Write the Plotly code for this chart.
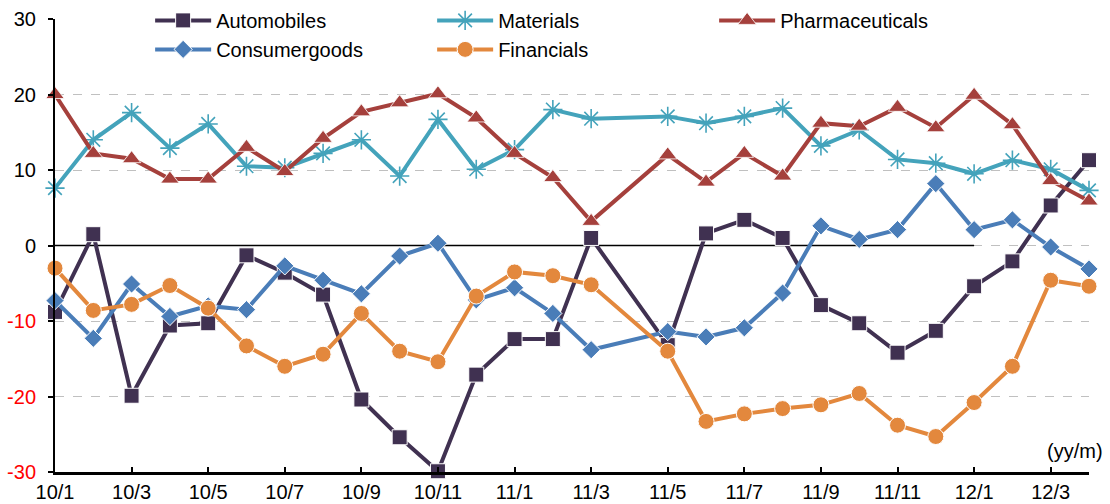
import plotly.graph_objects as go

# Monthly periods (yy/m); 11/4 has no observation
months = ["10/1", "10/2", "10/3", "10/4", "10/5", "10/6", "10/7", "10/8", "10/9", "10/10", "10/11", "10/12",
          "11/1", "11/2", "11/3", "11/4", "11/5", "11/6", "11/7", "11/8", "11/9", "11/10", "11/11", "11/12",
          "12/1", "12/2", "12/3", "12/4"]

automobiles = [-8.8, 1.5, -19.9, -10.6, -10.3, -1.3, -3.6, -6.5, -20.4, -25.4, -29.9, -17.1,
               -12.4, -12.4, 1.0, None, -13.2, 1.6, 3.4, 1.0, -7.9, -10.3, -14.2, -11.3,
               -5.4, -2.1, 5.3, 11.3]
materials = [7.6, 14.0, 17.6, 12.9, 16.1, 10.5, 10.3, 12.2, 14.0, 9.2, 16.7, 10.1,
             12.7, 18.0, 16.8, None, 17.1, 16.2, 17.1, 18.2, 13.2, 15.3, 11.4, 10.9,
             9.5, 11.3, 10.1, 7.3]
pharmaceuticals = [20.0, 12.2, 11.5, 8.8, 8.8, 13.0, 9.8, 14.2, 17.7, 18.9, 20.1, 16.9,
                   12.2, 9.0, 3.2, None, 12.0, 8.4, 12.2, 9.2, 16.2, 15.8, 18.3, 15.6,
                   19.9, 16.0, 8.6, 5.9]
consumer_goods = [-7.3, -12.3, -5.1, -9.4, -8.0, -8.5, -2.7, -4.6, -6.4, -1.4, 0.3, -7.2,
                  -5.6, -9.0, -13.8, None, -11.4, -12.1, -10.9, -6.3, 2.6, 0.8, 2.1, 8.2,
                  2.1, 3.4, -0.2, -3.1]
financials = [-3.0, -8.6, -7.8, -5.3, -8.3, -13.3, -16.0, -14.4, -9.0, -14.0, -15.4, -6.7,
              -3.5, -4.0, -5.2, None, -14.0, -23.3, -22.3, -21.6, -21.1, -19.6, -23.8, -25.3,
              -20.8, -16.0, -4.6, -5.4]

y_ticks = [-30, -20, -10, 0, 10, 20, 30]
x_tick_labels = months[::2]

FONT = "Liberation Sans, Arial, sans-serif"
FS = 20
x = list(range(len(months)))

series = [
    ("Automobiles", automobiles, "#403151", dict(symbol="square", size=15, line=dict(color="white", width=1))),
    ("Materials", materials, "#44A3BB", dict(symbol="asterisk-open", size=16, line=dict(color="#44A3BB", width=1.6))),
    ("Pharmaceuticals", pharmaceuticals, "#A5403C", dict(symbol="triangle-up", size=16, line=dict(color="white", width=0.8))),
    ("Consumergoods", consumer_goods, "#4A7DB8", dict(symbol="diamond", size=14, line=dict(color="white", width=1))),
    ("Financials", financials, "#E3883D", dict(symbol="circle", size=16, line=dict(color="white", width=1))),
]

fig = go.Figure()
for name, vals, color, marker in series:
    fig.add_trace(go.Scatter(
        x=x, y=vals, name=name, mode="lines+markers",
        line=dict(color=color, width=4),
        marker=dict(color=color, **marker),
        connectgaps=True, cliponaxis=False,
    ))

# black zero line running from the first month up to 12/1
fig.add_shape(type="line", xref="x", yref="y", x0=0, x1=months.index("12/1"), y0=0, y1=0,
              line=dict(color="black", width=1.5), layer="between")
# white backing behind the legend block
fig.add_shape(type="rect", xref="paper", yref="paper", x0=0.068, x1=0.877, y0=0.975, y1=1.04,
              fillcolor="white", line=dict(width=0), layer="between")

fig.add_annotation(text="(yy/m)", xref="paper", yref="paper", x=1.015, y=0.046,
                   xanchor="right", yanchor="middle", showarrow=False,
                   font=dict(family=FONT, size=FS, color="black"))

tick_text = [f"<span style='color:#FF0000'>{v}</span>" if v < 0 else str(v) for v in y_ticks]

fig.update_layout(
    width=1110, height=504,
    margin=dict(l=55, r=21, t=19, b=32, autoexpand=False),
    paper_bgcolor="white", plot_bgcolor="white",
    font=dict(family=FONT, size=FS, color="black"),
    showlegend=True,
    legend=dict(orientation="h", x=0.092, y=1.04, xanchor="left", yanchor="top",
                bgcolor="rgba(0,0,0,0)", entrywidth=211, itemwidth=56,
                font=dict(family=FONT, size=FS), tracegroupgap=0),
    xaxis=dict(range=[0, len(months) - 1], tickmode="array", tickvals=x[::2], ticktext=x_tick_labels,
               showgrid=False, zeroline=False, showline=True, linecolor="black", linewidth=3,
               ticks="inside", ticklen=5, tickwidth=1.5, tickcolor="black", ticklabelstandoff=0),
    yaxis=dict(range=[-30, 30], tickmode="array", tickvals=y_ticks, ticktext=tick_text,
               showgrid=True, gridcolor="#C0C0C0", gridwidth=1.4, griddash="dash",
               zeroline=False, showline=True, linecolor="black", linewidth=2,
               ticks="outside", ticklen=5, tickwidth=1.5, tickcolor="black", ticklabelstandoff=8),
)

fig.write_html("out.html")
